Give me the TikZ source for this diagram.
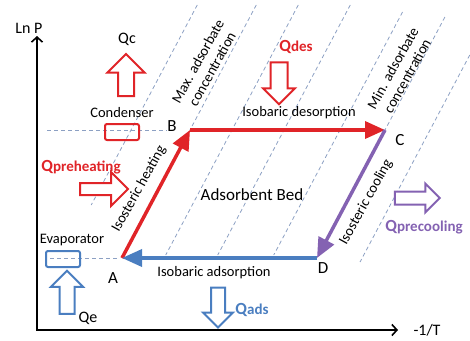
\documentclass[tikz,border=0pt]{standalone}
\usepackage{fontspec}
\setmainfont{Carlito}
\usepackage{tikz}
\usetikzlibrary{arrows.meta, shapes.arrows}
\definecolor{heatred}{RGB}{224,36,40}
\definecolor{coolblue}{RGB}{74,126,192}
\definecolor{coolpurple}{RGB}{132,98,178}
\definecolor{isocol}{RGB}{140,160,195}

\begin{document}
\begin{tikzpicture}[
            x=1pt, y=-1pt,
            txt/.style={font=\fontsize{14.5}{16}\selectfont, inner sep=1pt},
            corner/.style={font=\fontsize{17}{19}\selectfont, inner sep=0pt},
            qtxt/.style={font=\fontsize{15}{17}\selectfont\bfseries, inner sep=0pt},
            isoline/.style={isocol, dash pattern=on 4pt off 3pt, line width=0.8pt},
            axis/.style={line width=1.6pt, {Straight Barb[length=5pt,width=11pt]}-{Straight Barb[length=5pt,width=11pt]}},
            stage/.style={line width=3.5pt, -{Triangle[length=20pt,width=17pt]}},
            qarrow/.style={single arrow, draw, fill=white, line width=2pt, inner sep=0pt, text depth=0pt},
            unit/.style={draw, line width=2pt, rounded corners=2pt, minimum width=34pt, minimum height=16pt, inner sep=0pt}
        ]
        \useasboundingbox (0,0) rectangle (470,340);

        % Define the cycle corners
        \coordinate (A) at (122,258);
        \coordinate (B) at (190,130);
        \coordinate (C) at (385,130);
        \coordinate (D) at (317,258);

        % Isosteres and pressure levels
        \foreach \xm/\ya/\yb in {131/5/205, 190/5/130, 232/5/255, 284/5/255, 340/12/255, 385/17/130, 430/55/262}
            \draw[isoline] ({\xm+0.53*(130-\ya)},\ya) -- ({\xm-0.53*(\yb-130)},\yb);
        \draw[isoline] (47,130) -- (167,130);
        \draw[isoline] (50,258) -- (118,258);

        % Axes
        \coordinate (origin) at (37,330);
        \coordinate (ytip) at (37,36);
        \coordinate (xtip) at (398,330);
        \draw[axis] (ytip) -- (origin) -- (xtip);
        \node[corner, font=\fontsize{16}{18}\selectfont] (lnp) at (29,28) {Ln P};
        \node[corner, font=\fontsize{16}{18}\selectfont] (invt) at (427,330) {-1/T};

        % Condenser and evaporator
        \node[unit, draw=heatred] (condbox) at (122,132) {};
        \node[unit, draw=coolblue] (evapbox) at (63,259) {};
        \node[txt] (cond) at (122,113) {Condenser};
        \node[txt] (evap) at (72,240) {Evaporator};

        % Draw the cycle
        \draw[stage, heatred] (A) -- (B);
        \draw[stage, heatred] (B) -- (C);
        \draw[stage, coolpurple] (C) -- (D);
        \draw[stage, coolblue] (D) -- (A);

        \node[corner] (labA) at (113,278) {A};
        \node[corner] (labB) at (172,126) {B};
        \node[corner] (labC) at (400,140) {C};
        \node[corner] (labD) at (323,268) {D};

        % Process labels
        \node[txt] (desorb) at (299,113) {Isobaric desorption};
        \node[txt] (adsorb) at (214,273) {Isobaric adsorption};
        \node[txt, font=\fontsize{17}{19}\selectfont] (bed) at (252,195) {Adsorbent Bed};
        \node[txt, rotate=61] (heating) at (139,189) {Isosteric heating};
        \node[txt, rotate=61] (cooling) at (366,202) {Isosteric cooling};
        \node[txt, rotate=61, align=center, font=\fontsize{14.5}{16.5}\selectfont] (maxconc) at (205,65) {Max. adsorbate\\concentration};
        \node[txt, rotate=61, align=center, font=\fontsize{14.5}{16.5}\selectfont] (minconc) at (400,72) {Min. adsorbate\\concentration};

        % Heat flows
        \node[qarrow, draw=heatred, text height=14pt, single arrow head extend=10.5pt, minimum height=42pt, rotate=90] (qcarrow) at (126,79) {};
        \node[qarrow, draw=heatred, text height=15pt, single arrow head extend=7.5pt, minimum height=42pt, rotate=-90] (qdesarrow) at (279,79) {};
        \node[qarrow, draw=heatred, text height=10pt, single arrow head extend=11pt, minimum height=48pt] (qprearrow) at (101,189) {};
        \node[qarrow, draw=coolpurple, text height=11pt, single arrow head extend=8pt, minimum height=45pt] (qcoolarrow) at (414,198) {};
        \node[qarrow, draw=coolblue, text height=13pt, single arrow head extend=8.5pt, minimum height=43pt, rotate=90] (qearrow) at (67,296) {};
        \node[qarrow, draw=coolblue, text height=12pt, single arrow head extend=8pt, minimum height=40pt, rotate=-90] (qadsarrow) at (218,304) {};

        \node[corner, font=\fontsize{16}{18}\selectfont] (qc) at (127,39) {Qc};
        \node[corner, font=\fontsize{16}{18}\selectfont] (qe) at (88,318) {Qe};
        \node[qtxt, text=heatred] (qdes) at (296,47) {{\fontsize{17}{17}\selectfont Q}des};
        \node[qtxt, text=heatred] (qpre) at (81,167) {{\fontsize{17}{17}\selectfont Q}preheating};
        \node[qtxt, text=coolpurple] (qcool) at (424,227) {{\fontsize{17}{17}\selectfont Q}precooling};
        \node[qtxt, text=coolblue] (qads) at (252,310) {{\fontsize{17}{17}\selectfont Q}ads};
    \end{tikzpicture}
\end{document}
